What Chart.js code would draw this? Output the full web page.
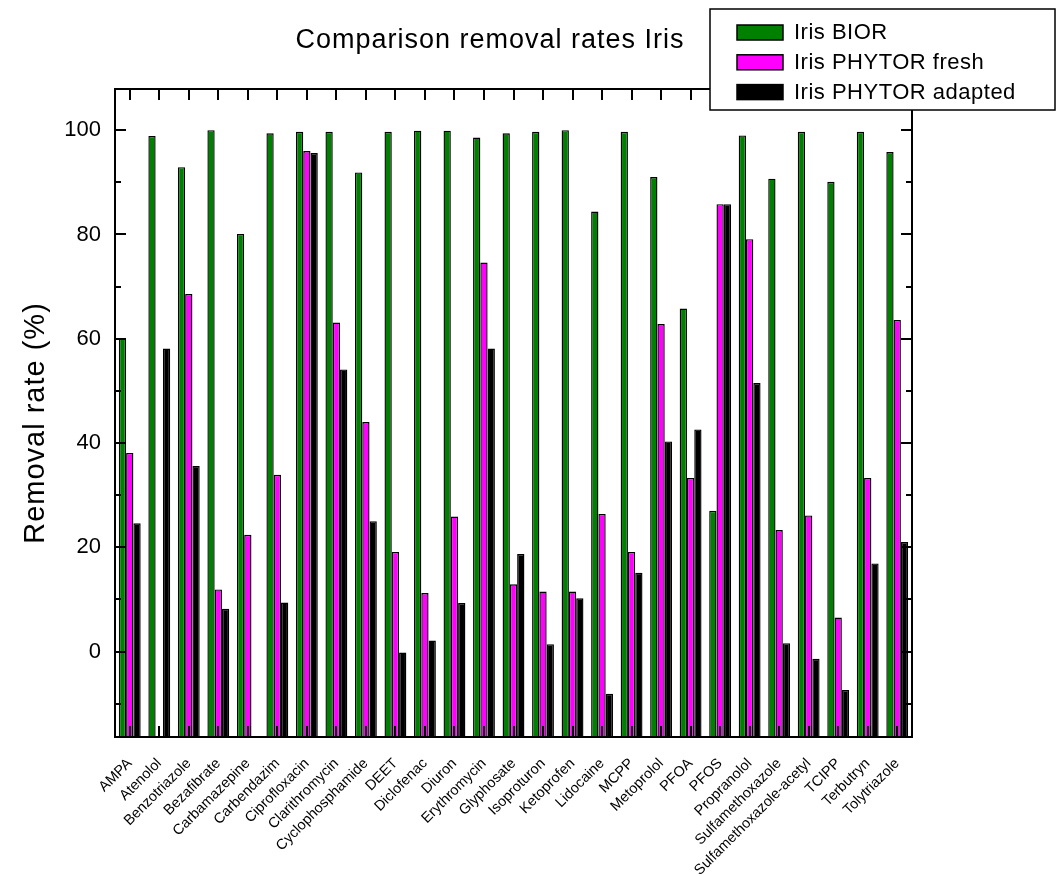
<!DOCTYPE html>
<html>
<head>
<meta charset="utf-8">
<script src="https://cdn.jsdelivr.net/npm/chart.js@4.4.0/dist/chart.umd.min.js"></script>
<style>
	html, body { margin: 0; padding: 0; background: #fff; }
	#wrap { width: 1064px; height: 876px; position: relative; }
</style>
</head>
<body>
<div id="wrap"><canvas id="chart" width="1064" height="876"></canvas></div>
<script>
	'use strict';
	const compounds = [
		'AMPA', 'Atenolol', 'Benzotriazole', 'Bezafibrate', 'Carbamazepine', 'Carbendazim',
		'Ciprofloxacin', 'Clarithromycin', 'Cyclophosphamide', 'DEET', 'Diclofenac', 'Diuron',
		'Erythromycin', 'Glyphosate', 'Isoproturon', 'Ketoprofen', 'Lidocaine', 'MCPP',
		'Metoprolol', 'PFOA', 'PFOS', 'Propranolol', 'Sulfamethoxazole', 'Sulfamethoxazole-acetyl',
		'TCIPP', 'Terbutryn', 'Tolytriazole'
	];
	const biorValues = [
		60.1, 98.9, 92.9, 100, 80.1, 99.4,
		99.7, 99.7, 91.9, 99.7, 99.9, 99.9,
		98.6, 99.4, 99.7, 100, 84.4, 99.7,
		91.0, 65.8, 27.0, 99.0, 90.7, 99.7,
		90.1, 99.7, 95.8
	];
	const freshValues = [
		38.1, null, 68.6, 11.9, 22.4, 33.9,
		96.0, 63.1, 44.0, 19.1, 11.2, 25.9,
		74.6, 12.9, 11.5, 11.5, 26.4, 19.1,
		62.8, 33.3, 85.8, 79.1, 23.3, 26.1,
		6.5, 33.3, 63.6
	];
	const adaptedValues = [
		24.6, 58.1, 35.6, 8.2, null, 9.4,
		95.6, 54.1, 25.0, -0.2, 2.1, 9.3,
		58.1, 18.7, 1.4, 10.2, -8.1, 15.1,
		40.3, 42.6, 85.8, 51.5, 1.6, -1.4,
		-7.4, 16.9, 21.0
	];
	const seriesNames = [ 'Iris BIOR', 'Iris PHYTOR fresh', 'Iris PHYTOR adapted' ];
	const seriesColors = [ '#008000', '#ff00ff', '#000000' ];
	const yTicks = [ 0, 20, 40, 60, 80, 100 ];
	const yMinorTicks = [ -10, 10, 30, 50, 70, 90 ];
	const yMin = -16.4;
	const yMax = 107.9;

	const fontFamily = '"Liberation Sans", Arial, sans-serif';

	const frameTicks = {
		id: 'frameTicks',
		afterDatasetsDraw(chart) {
			const { ctx, chartArea: area, scales: { x, y } } = chart;
			const major = 11, minor = 6;
			ctx.save();
			ctx.strokeStyle = '#000';
			ctx.lineWidth = 2;
			ctx.beginPath();
			x.ticks.forEach((t, i) => {
				const px = Math.round(x.getPixelForTick(i));
				ctx.moveTo(px, area.top);
				ctx.lineTo(px, area.top + major);
				ctx.moveTo(px, area.bottom);
				ctx.lineTo(px, area.bottom - major);
			});
			const yLine = (v, len) => {
				const py = Math.round(y.getPixelForValue(v));
				ctx.moveTo(area.left, py);
				ctx.lineTo(area.left + len, py);
				ctx.moveTo(area.right, py);
				ctx.lineTo(area.right - len, py);
			};
			yTicks.forEach(v => yLine(v, major));
			yMinorTicks.forEach(v => yLine(v, minor));
			ctx.stroke();
			ctx.strokeRect(area.left, area.top, area.right - area.left, area.bottom - area.top);
			ctx.restore();
		},
		afterDraw(chart) {
			const { ctx } = chart;
			ctx.save();
			ctx.fillStyle = '#000';

			// title
			ctx.font = '27px ' + fontFamily;
			ctx.letterSpacing = '1px';
			ctx.textAlign = 'center';
			ctx.textBaseline = 'middle';
			ctx.fillText('Comparison removal rates Iris', 490, 41);

			// y title
			ctx.save();
			ctx.translate(36, 423);
			ctx.rotate(-Math.PI / 2);
			ctx.font = '29px ' + fontFamily;
			ctx.fillText('Removal rate (%)', 0, 0);
			ctx.restore();

			// legend box, drawn over the frame like the original
			const box = { left: 710, top: 9, width: 345, height: 101 };
			ctx.fillStyle = '#fff';
			ctx.fillRect(box.left, box.top, box.width, box.height);
			ctx.strokeStyle = '#000';
			ctx.lineWidth = 1.5;
			ctx.strokeRect(box.left, box.top, box.width, box.height);

			ctx.font = '22px ' + fontFamily;
			ctx.letterSpacing = '0.5px';
			ctx.textAlign = 'left';
			chart.data.datasets.forEach((ds, i) => {
				const cy = 32 + i * 29.8;
				ctx.fillStyle = ds.backgroundColor;
				ctx.fillRect(737, cy - 7, 46, 15);
				ctx.lineWidth = 1.5;
				ctx.strokeRect(737, cy - 7, 46, 15);
				ctx.fillStyle = '#000';
				ctx.fillText(ds.label, 794, cy + 1);
			});
			ctx.restore();
		}
	};

	const makeDataset = (idx, values) => ({
		label: seriesNames[idx],
		data: values,
		backgroundColor: seriesColors[idx],
		borderColor: '#000',
		borderWidth: 1.4,
		base: yMin,
		categoryPercentage: 0.74,
		barPercentage: 1
	});

	new Chart(document.getElementById('chart').getContext('2d'), {
		type: 'bar',
		data: {
			labels: compounds,
			datasets: [
				makeDataset(0, biorValues),
				makeDataset(1, freshValues),
				makeDataset(2, adaptedValues)
			]
		},
		options: {
			responsive: false,
			animation: false,
			devicePixelRatio: 1,
			layout: {
				padding: { left: 0, top: 89, right: 152, bottom: 0 }
			},
			plugins: {
				legend: { display: false },
				title: { display: false },
				tooltip: { enabled: false }
			},
			scales: {
				x: {
					grid: { display: false },
					border: { display: false },
					ticks: {
						autoSkip: false,
						maxRotation: 45,
						minRotation: 45,
						padding: 10,
						color: '#000',
						font: { size: 14.5, family: fontFamily }
					},
					afterFit(scale) { scale.height = 139; }
				},
				y: {
					min: yMin,
					max: yMax,
					grid: { display: false },
					border: { display: false },
					afterBuildTicks(scale) {
						scale.ticks = yTicks.map(v => ({ value: v }));
					},
					ticks: {
						padding: 6,
						color: '#000',
						font: { size: 22, family: fontFamily }
					},
					afterFit(scale) { scale.width = 115; }
				}
			}
		},
		plugins: [ frameTicks ]
	});
</script>
</body>
</html>
